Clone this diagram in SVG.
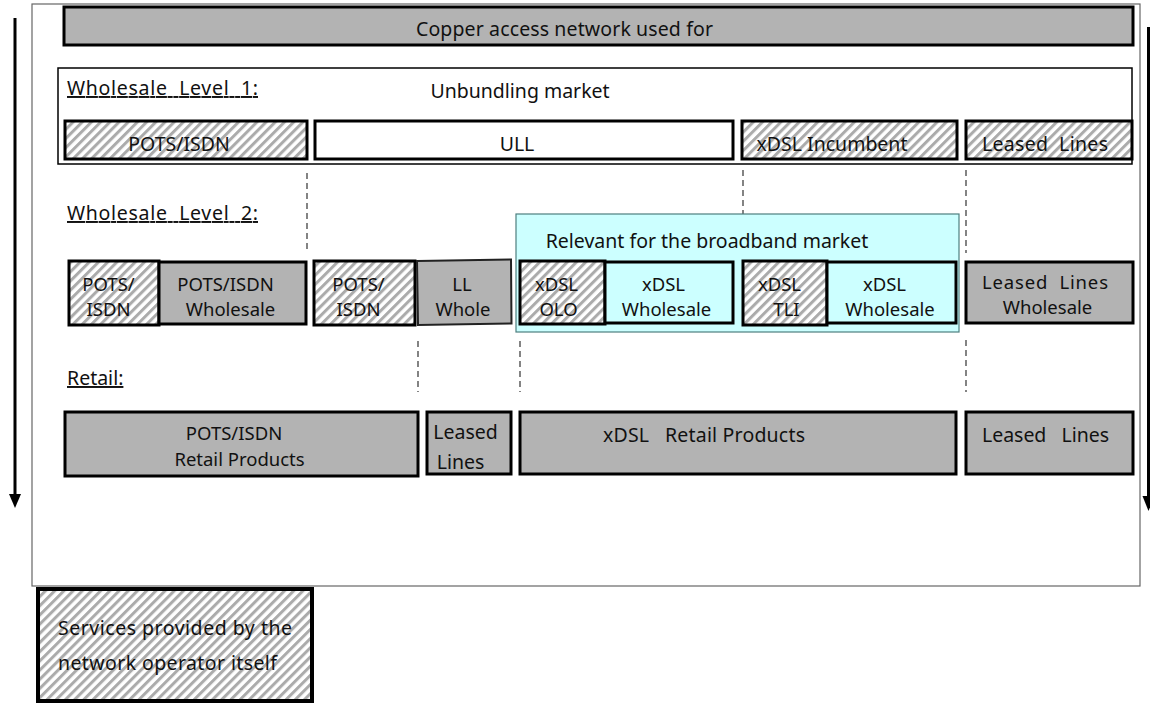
<svg xmlns="http://www.w3.org/2000/svg" width="1150" height="703" viewBox="0 0 1150 703">
<style>
text{font-family:"Noto Sans","Liberation Sans",Arial,sans-serif;font-size:19.5px;fill:#111;white-space:pre}
.m{text-anchor:middle}
.s{font-size:18.5px}
.u{text-decoration:underline}
.gray{fill:#b3b3b3;stroke:#000;stroke-width:3}
.hatch{fill:url(#hp);stroke:#000;stroke-width:3}
.cy{fill:#ccffff;stroke:#000;stroke-width:3}
.wh{fill:#fff;stroke:#000;stroke-width:3}
.dash{stroke:#333;stroke-width:1.2;stroke-dasharray:6,4;fill:none}
.arr{stroke:#000;stroke-width:3;fill:none}
</style>
<defs>
<pattern id="hp" patternUnits="userSpaceOnUse" width="6.5" height="6.5" patternTransform="rotate(45)">
<rect width="6.5" height="6.5" fill="#fff"/>
<rect width="3" height="6.5" fill="#ababab"/>
</pattern>
</defs>
<rect width="1150" height="703" fill="#fff"/>
<g id="frame">
<rect x="32" y="4" width="1108" height="582" fill="#fff" stroke="#666" stroke-width="1.2"/>
</g>
<g id="connectors">
<line class="arr" x1="15" y1="18" x2="15" y2="495"/>
<polygon points="9,494 21,494 15,508" fill="#000"/>
<line class="arr" x1="1148.5" y1="27" x2="1148.5" y2="497"/>
<polygon points="1142.5,496 1154.5,496 1148.5,511" fill="#000"/>
<line class="dash" x1="307" y1="173" x2="307" y2="253"/>
<line class="dash" x1="743" y1="170" x2="743" y2="253"/>
<line class="dash" x1="966" y1="170" x2="966" y2="253"/>
<line class="dash" x1="418" y1="341" x2="418" y2="392"/>
<line class="dash" x1="520" y1="341" x2="520" y2="392"/>
<line class="dash" x1="966" y1="340" x2="966" y2="392"/>
</g>
<g id="top-bar">
<rect class="gray" x="64" y="7" width="1069" height="38"/>
<text class="m" x="564.5" y="36" textLength="297">Copper access network used for</text>
</g>
<g id="wholesale-level-1">
<rect x="58" y="68" width="1074" height="96" fill="#fff" stroke="#000" stroke-width="1.5"/>
<text class="u" x="67" y="95" textLength="191">Wholesale  Level  1:</text>
<text class="m" x="520" y="98">Unbundling market</text>
</g>
<g id="l1-pots"><rect class="hatch" x="65" y="121" width="242" height="38"/><text class="m" x="179" y="151">POTS/ISDN</text></g>
<g id="l1-ull"><rect class="wh" x="315" y="121" width="418" height="38"/><text class="m" x="517" y="151">ULL</text></g>
<g id="l1-xdsl"><rect class="hatch" x="742" y="121" width="215" height="38"/><text class="m" x="832" y="151">xDSL Incumbent</text></g>
<g id="l1-ll"><rect class="hatch" x="966" y="121" width="166" height="38"/><text class="m" x="1045" y="151" textLength="126">Leased  Lines</text></g>
<g id="wholesale-level-2-label"><text class="u" x="67" y="220" textLength="191">Wholesale  Level  2:</text></g>
<g id="broadband">
<rect x="516" y="214" width="443" height="118" fill="#ccffff" stroke="#4d7f7f" stroke-width="1.2"/>
<text class="m" x="707" y="248">Relevant for the broadband market</text>
</g>
<g id="l2-pots1"><rect class="hatch" x="69" y="261" width="90" height="64"/><text class="m s" x="108.5" y="291">POTS/</text><text class="m s" x="108.5" y="316">ISDN</text></g>
<g id="l2-potsw"><rect class="gray" x="159" y="262" width="147" height="62"/><text class="m s" x="225.5" y="291">POTS/ISDN</text><text class="m s" x="230.5" y="316">Wholesale</text></g>
<g id="l2-pots2"><rect class="hatch" x="314" y="261" width="101" height="64"/><text class="m s" x="358.5" y="291">POTS/</text><text class="m s" x="358.5" y="316">ISDN</text></g>
<g id="l2-llw"><polygon points="417,261 511,259.5 511.5,323.5 418,325" fill="#b3b3b3" stroke="#222" stroke-width="2"/><text class="m s" x="462" y="291">LL</text><text class="m s" x="463" y="316">Whole</text></g>
<g id="l2-olo"><rect class="hatch" x="520" y="261" width="85" height="63"/><text class="m s" x="556.5" y="291">xDSL</text><text class="m s" x="558.5" y="316">OLO</text></g>
<g id="l2-xw1"><rect class="cy" x="605" y="262" width="128" height="61"/><text class="m s" x="663.5" y="291">xDSL</text><text class="m s" x="666.5" y="316">Wholesale</text></g>
<g id="l2-tli"><rect class="hatch" x="743" y="261" width="84" height="64"/><text class="m s" x="779.5" y="291">xDSL</text><text class="m s" x="786.5" y="316">TLI</text></g>
<g id="l2-xw2"><rect class="cy" x="827" y="262" width="129" height="61"/><text class="m s" x="884.5" y="291">xDSL</text><text class="m s" x="890" y="316">Wholesale</text></g>
<g id="l2-llw2"><rect class="gray" x="966" y="262" width="167" height="61"/><text class="m s" x="1045" y="289" textLength="126">Leased  Lines</text><text class="m s" x="1047.5" y="314">Wholesale</text></g>
<g id="retail-label"><text class="u" x="67" y="385">Retail:</text></g>
<g id="r-pots"><rect class="gray" x="65" y="412" width="353" height="64"/><text class="m s" x="234" y="440">POTS/ISDN</text><text class="m s" x="239.5" y="466">Retail Products</text></g>
<g id="r-ll"><rect class="gray" x="427" y="412" width="84" height="62"/><text class="m" x="465.5" y="439">Leased</text><text class="m" x="460.5" y="469">Lines</text></g>
<g id="r-xdsl"><rect class="gray" x="520" y="412" width="436" height="62"/><text class="m" x="704" y="442" textLength="202">xDSL   Retail Products</text></g>
<g id="r-ll2"><rect class="gray" x="966" y="412" width="167" height="62"/><text class="m" x="1045.5" y="442" textLength="127">Leased   Lines</text></g>
<g id="legend">
<rect x="38" y="589" width="274" height="112" fill="url(#hp)" stroke="#000" stroke-width="4"/>
<text x="58" y="635" textLength="234">Services provided by the</text>
<text x="58" y="670" textLength="219">network operator itself</text>
</g>
</svg>
